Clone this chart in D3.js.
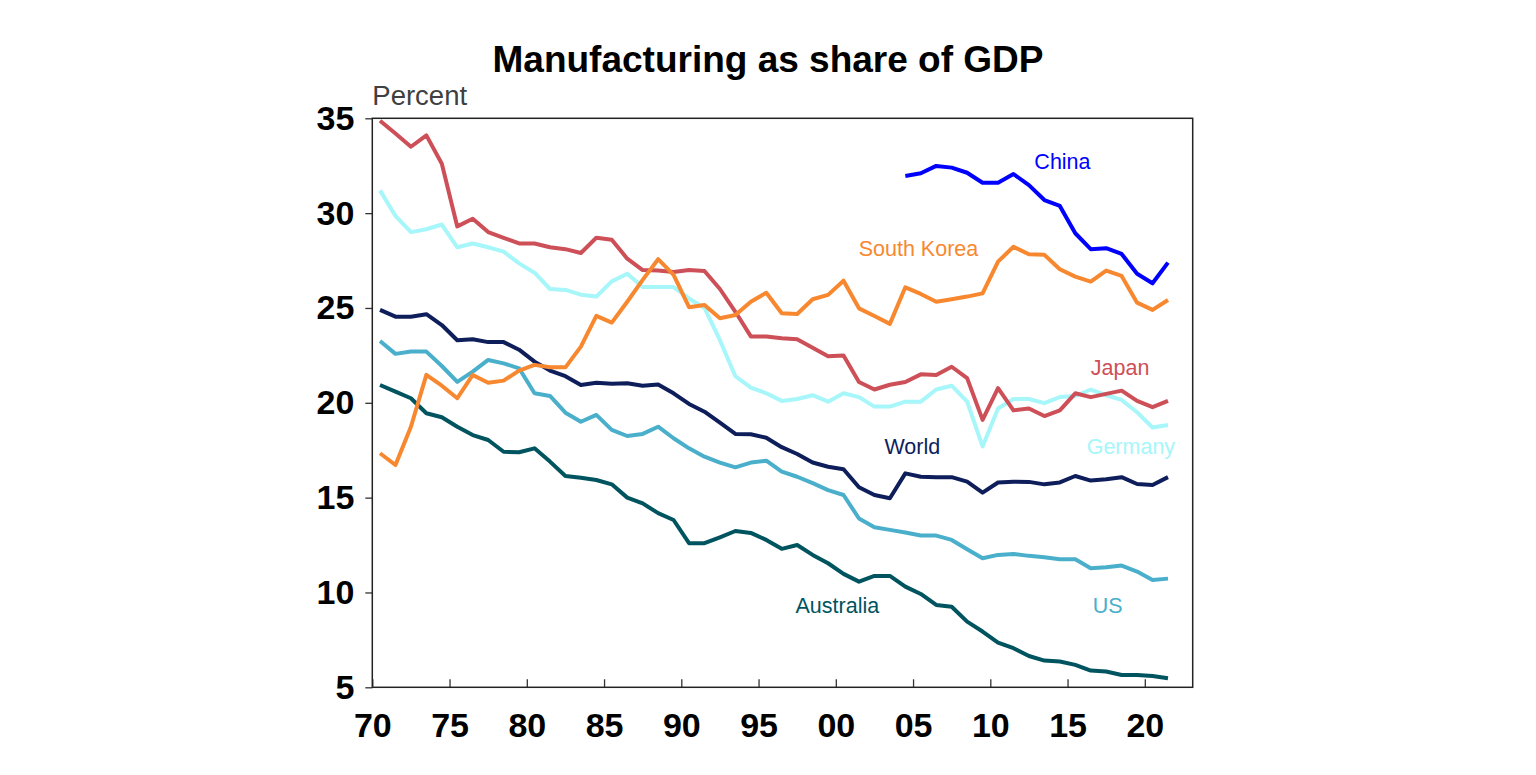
<!DOCTYPE html>
<html>
<head>
<meta charset="utf-8">
<script src="https://cdn.jsdelivr.net/npm/d3@7"></script>
<style>
  html, body { margin: 0; padding: 0; background: #ffffff; }
  svg { display: block; }
</style>
</head>
<body>
<svg id="chart" width="1536" height="775"></svg>
<script>
// ---- Data ----
const years = d3.range(1970, 2022);
const chinaYears = d3.range(2004, 2022);

const australia = [20.94,20.59,20.24,19.45,19.24,18.74,18.3,18.04,17.42,17.39,
  17.6,16.9,16.14,16.05,15.93,15.7,15.0,14.7,14.18,13.82,
  12.6,12.6,12.91,13.24,13.14,12.77,12.3,12.5,11.98,11.54,
  10.98,10.57,10.87,10.87,10.31,9.92,9.34,9.25,8.46,7.94,
  7.36,7.06,6.65,6.41,6.36,6.18,5.88,5.83,5.65,5.65,
  5.6,5.48];
const us = [23.26,22.58,22.7,22.7,21.94,21.1,21.64,22.26,22.08,21.82,
  20.5,20.36,19.48,19.0,19.36,18.57,18.25,18.36,18.74,18.13,
  17.6,17.16,16.85,16.6,16.85,16.95,16.37,16.1,15.76,15.4,
  15.14,13.9,13.44,13.3,13.16,13.0,13.0,12.77,12.28,11.8,
  11.98,12.03,11.93,11.86,11.75,11.75,11.28,11.33,11.42,11.1,
  10.66,10.73];
const world = [24.9,24.54,24.54,24.67,24.1,23.3,23.35,23.2,23.2,22.8,
  22.17,21.7,21.4,20.94,21.06,21.0,21.03,20.9,20.97,20.5,
  19.94,19.53,18.95,18.36,18.34,18.16,17.66,17.3,16.85,16.63,
  16.5,15.55,15.14,14.97,16.28,16.1,16.08,16.08,15.84,15.26,
  15.8,15.84,15.83,15.7,15.8,16.14,15.9,15.97,16.08,15.72,
  15.67,16.08];
const germany = [31.2,29.85,29.0,29.15,29.4,28.2,28.4,28.2,27.97,27.35,
  26.86,26.0,25.95,25.7,25.6,26.4,26.8,26.1,26.1,26.1,
  25.5,25.0,23.3,21.4,20.8,20.5,20.1,20.2,20.4,20.06,
  20.5,20.3,19.8,19.8,20.06,20.06,20.7,20.9,20.06,17.7,
  19.7,20.2,20.2,19.98,20.3,20.36,20.7,20.4,20.15,19.5,
  18.7,18.83];
const japan = [34.87,34.2,33.5,34.1,32.6,29.3,29.7,29.0,28.7,28.4,
  28.4,28.2,28.1,27.9,28.7,28.6,27.6,27.0,26.97,26.9,
  27.0,26.95,26.0,24.8,23.5,23.5,23.4,23.35,22.9,22.45,
  22.5,21.1,20.7,20.95,21.1,21.5,21.47,21.9,21.3,19.1,
  20.77,19.6,19.7,19.3,19.6,20.5,20.3,20.47,20.64,20.1,
  19.77,20.1];
const korea = [17.34,16.72,18.74,21.47,20.9,20.24,21.47,21.06,21.17,21.7,
  22.0,21.87,21.87,22.96,24.58,24.23,25.33,26.48,27.57,26.74,
  25.04,25.16,24.46,24.63,25.33,25.8,24.72,24.68,25.46,25.69,
  26.44,24.98,24.58,24.16,26.09,25.74,25.33,25.46,25.6,25.77,
  27.44,28.23,27.83,27.8,27.04,26.65,26.39,26.97,26.69,25.28,
  24.9,25.42];
const china = [31.96,32.1,32.49,32.4,32.13,31.6,31.6,32.06,31.48,30.69,
  30.38,28.94,28.1,28.15,27.85,26.8,26.3,27.39];

const xTickValues = [1970,1975,1980,1985,1990,1995,2000,2005,2010,2015,2020];
const xTickLabels = ["70","75","80","85","90","95","00","05","10","15","20"];
const yTickValues = [5,10,15,20,25,30,35];

const seriesNames = ["Australia","US","World","Germany","Japan","South Korea","China"];
const seriesColors = ["#00545F","#4AAFCB","#0E1E5B","#A6F6FA","#CD4F57","#F7882F","#0000FF"];
const labelYears = [2000.1, 2017.6, 2004.95, 2019.1, 2018.4, 2005.35, 2014.67];
const labelValues = [8.91, 8.91, 17.29, 17.29, 21.47, 27.74, 32.33];

(function () {
  // ---- Layout ----
  const svg = d3.select("#chart");
  const pLeft = 372.3, pRight = 1192.7, pTop = 118.3, pBottom = 687.3;
  const x = d3.scaleLinear().domain([1970, 2023.1]).range([pLeft, pRight]);
  const y = d3.scaleLinear().domain([5, 35]).range([pBottom, pTop]);
  const font = "'Liberation Sans', Arial, sans-serif";

  // Title
  svg.append("text")
    .attr("x", 768).attr("y", 72)
    .attr("text-anchor", "middle")
    .attr("font-family", font).attr("font-weight", "bold").attr("font-size", 37)
    .attr("fill", "#000")
    .text("Manufacturing as share of GDP");

  svg.append("text")
    .attr("x", pLeft).attr("y", 105)
    .attr("font-family", font).attr("font-size", 27.5)
    .attr("fill", "#404040")
    .text("Percent");

  // Axes
  const yAxis = d3.axisLeft(y).tickValues(yTickValues).tickSize(7).tickPadding(11).tickFormat(d3.format("d"));
  const gy = svg.append("g").attr("transform", `translate(${pLeft},0)`).call(yAxis);
  gy.select(".domain").remove();
  gy.selectAll("line").attr("stroke", "#333").attr("stroke-width", 1.3);
  gy.selectAll("text").attr("font-family", font).attr("font-weight", "bold").attr("font-size", 34).attr("fill", "#000");

  const xAxis = d3.axisBottom(x).tickValues(xTickValues).tickSize(-8).tickPadding(26)
    .tickFormat((d, i) => xTickLabels[i]);
  const gx = svg.append("g").attr("transform", `translate(0,${pBottom})`).call(xAxis);
  gx.select(".domain").remove();
  gx.selectAll("line").attr("stroke", "#333").attr("stroke-width", 1.3);
  gx.selectAll("text").attr("font-family", font).attr("font-weight", "bold").attr("font-size", 34).attr("fill", "#000");

  // Frame
  svg.append("rect")
    .attr("x", pLeft).attr("y", pTop)
    .attr("width", pRight - pLeft).attr("height", pBottom - pTop)
    .attr("fill", "none").attr("stroke", "#222").attr("stroke-width", 1.5);

  // Lines
  const allData = [australia, us, world, germany, japan, korea, china];
  const line = d3.line().x(d => x(d[0] + 0.5)).y(d => y(d[1]));

  allData.forEach((vals, i) => {
    const yrs = vals.length === china.length ? chinaYears : years;
    const pts = vals.map((v, j) => [yrs[j], v]);
    svg.append("path")
      .datum(pts)
      .attr("d", line)
      .attr("fill", "none")
      .attr("stroke", seriesColors[i])
      .attr("stroke-width", 4)
      .attr("stroke-linejoin", "round");
  });

  // Labels
  seriesNames.forEach((n, i) => {
    svg.append("text")
      .attr("x", x(labelYears[i])).attr("y", y(labelValues[i]))
      .attr("text-anchor", "middle")
      .attr("font-family", font).attr("font-size", 21.5)
      .attr("fill", seriesColors[i])
      .text(n);
  });
})();
</script>
</body>
</html>
